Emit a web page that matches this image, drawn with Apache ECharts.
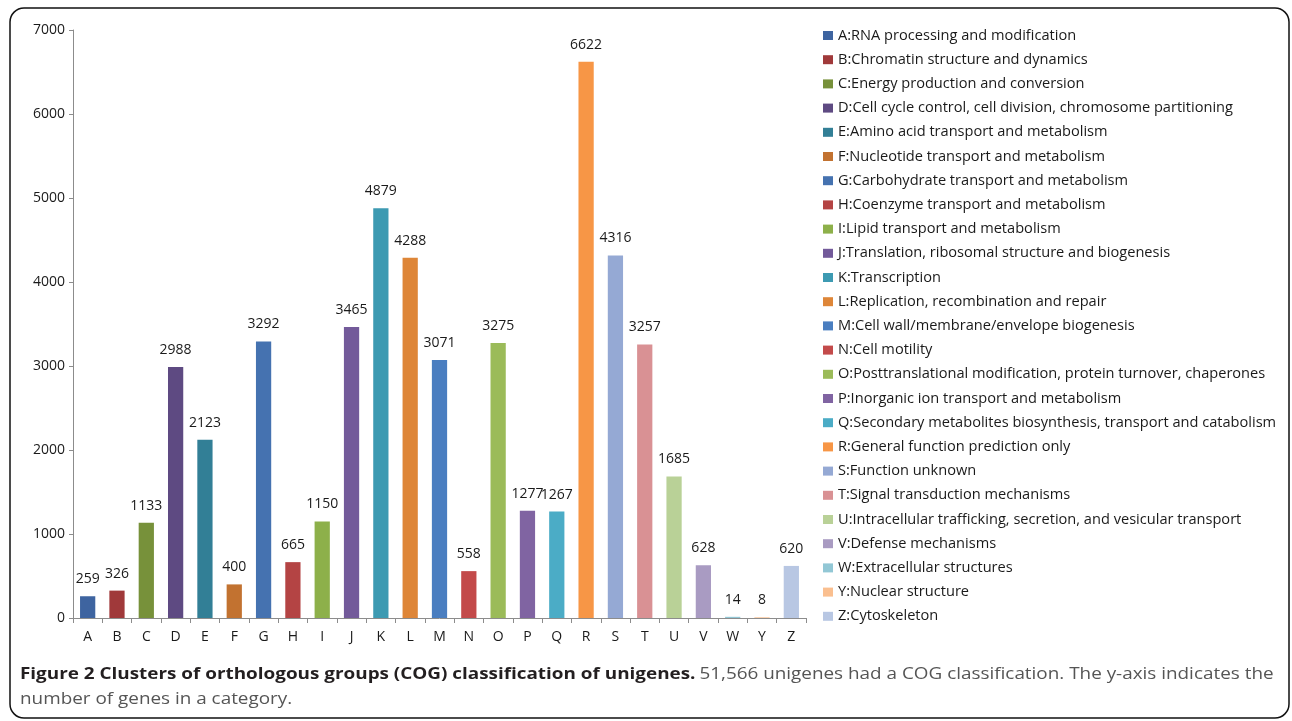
<!DOCTYPE html>
<html>
<head>
<meta charset="utf-8">
<script src="https://cdn.jsdelivr.net/npm/echarts@6/dist/echarts.min.js"></script>
<style>
  html, body { margin: 0; padding: 0; background: #fff; }
  #chart { width: 1292px; height: 721px; }
</style>
</head>
<body>
<div id="chart"></div>
<script>
// COG categories (x axis letters)
var categories = ['A', 'B', 'C', 'D', 'E', 'F', 'G', 'H', 'I', 'J', 'K', 'L', 'M',
  'N', 'O', 'P', 'Q', 'R', 'S', 'T', 'U', 'V', 'W', 'Y', 'Z'];
// legend descriptions
var descriptions = [
  'RNA processing and modification',
  'Chromatin structure and dynamics',
  'Energy production and conversion',
  'Cell cycle control, cell division, chromosome partitioning',
  'Amino acid transport and metabolism',
  'Nucleotide transport and metabolism',
  'Carbohydrate transport and metabolism',
  'Coenzyme transport and metabolism',
  'Lipid transport and metabolism',
  'Translation, ribosomal structure and biogenesis',
  'Transcription',
  'Replication, recombination and repair',
  'Cell wall/membrane/envelope biogenesis',
  'Cell motility',
  'Posttranslational modification, protein turnover, chaperones',
  'Inorganic ion transport and metabolism',
  'Secondary metabolites biosynthesis, transport and catabolism',
  'General function prediction only',
  'Function unknown',
  'Signal transduction mechanisms',
  'Intracellular trafficking, secretion, and vesicular transport',
  'Defense mechanisms',
  'Extracellular structures',
  'Nuclear structure',
  'Cytoskeleton'
];
// number of genes
var geneCounts = [259, 326, 1133, 2988, 2123, 400, 3292, 665, 1150, 3465, 4879, 4288, 3071,
  558, 3275, 1277, 1267, 6622, 4316, 3257, 1685, 628, 14, 8, 620];
var colors = ['#3e64a0', '#a0393a', '#77913a', '#5e4a82', '#327f96', '#c27230', '#4572b0',
  '#b44444', '#8db04a', '#735a9a', '#3d9ab2', '#de8638', '#4a7ec0', '#c34a4a', '#9bbb59',
  '#8064a2', '#4bacc6', '#f79646', '#95a9d4', '#d99194', '#b9d197', '#a99bc2', '#92c7d5',
  '#fabf8f', '#b8c7e3'];
var yTicks = [0, 1000, 2000, 3000, 4000, 5000, 6000, 7000];

var font = '"Open Sans", sans-serif';

var myChart = echarts.init(document.getElementById('chart'));

// one series per category so the legend lists every class
var series = categories.map(function (c, i) {
  var data = categories.map(function (cc, j) { return j === i ? geneCounts[i] : '-'; });
  return {
    name: c + ':' + descriptions[i],
    type: 'bar',
    stack: 'cog',
    barWidth: '52%',
    itemStyle: { color: colors[i] },
    label: {
      show: true,
      position: 'top',
      distance: 10,
      color: '#1a1a1a',
      fontFamily: font,
      fontSize: 14
    },
    data: data
  };
});

var option = {
  backgroundColor: '#fff',
  animation: false,
  grid: { left: 73, right: 486, top: 30, bottom: 103, containLabel: false },
  legend: {
    orient: 'vertical',
    left: 818,
    top: 23,
    itemWidth: 10,
    itemHeight: 9,
    itemGap: 9.2,
    icon: 'rect',
    selectedMode: false,
    textStyle: { fontFamily: font, fontSize: 14.6, color: '#1a1a1a', lineHeight: 14 },
    data: series.map(function (s) { return s.name; })
  },
  xAxis: {
    type: 'category',
    data: categories,
    axisLine: { lineStyle: { color: '#8c8c8c', width: 1 } },
    axisTick: { show: true, alignWithLabel: false, length: 5, lineStyle: { color: '#8c8c8c' } },
    axisLabel: { color: '#1a1a1a', fontFamily: font, fontSize: 14, margin: 12 }
  },
  yAxis: {
    type: 'value',
    min: yTicks[0],
    max: yTicks[yTicks.length - 1],
    interval: 1000,
    splitLine: { show: false },
    axisLine: { show: true, lineStyle: { color: '#8c8c8c', width: 1 } },
    axisTick: { show: true, length: 4, lineStyle: { color: '#8c8c8c' } },
    axisLabel: {
      color: '#1a1a1a', fontFamily: font, fontSize: 14, margin: 8,
      formatter: function (v) { return String(v); }
    }
  },
  graphic: [
    {
      type: 'rect',
      shape: { x: 10, y: 8, width: 1279, height: 710, r: 14 },
      style: { fill: 'none', stroke: '#111', lineWidth: 1.5 },
      silent: true
    },
    {
      // caption is set wider than the font draws it, as in the figure
      type: 'text',
      x: 20,
      y: 662,
      scaleX: 1.18,
      style: {
        text: '{b|Figure 2 Clusters of orthologous groups (COG) classification of unigenes.} {r|51,566 unigenes had a COG classification. The y-axis indicates the}\n{r|number of genes in a category.}',
        rich: {
          b: { fontFamily: font, fontSize: 16, fontWeight: 'bold', fill: '#231f20', lineHeight: 25 },
          r: { fontFamily: font, fontSize: 16, fill: '#555', lineHeight: 25 }
        }
      }
    }
  ],
  series: series
};

myChart.setOption(option);
window.addEventListener('resize', function () { myChart.resize(); });
</script>
</body>
</html>
